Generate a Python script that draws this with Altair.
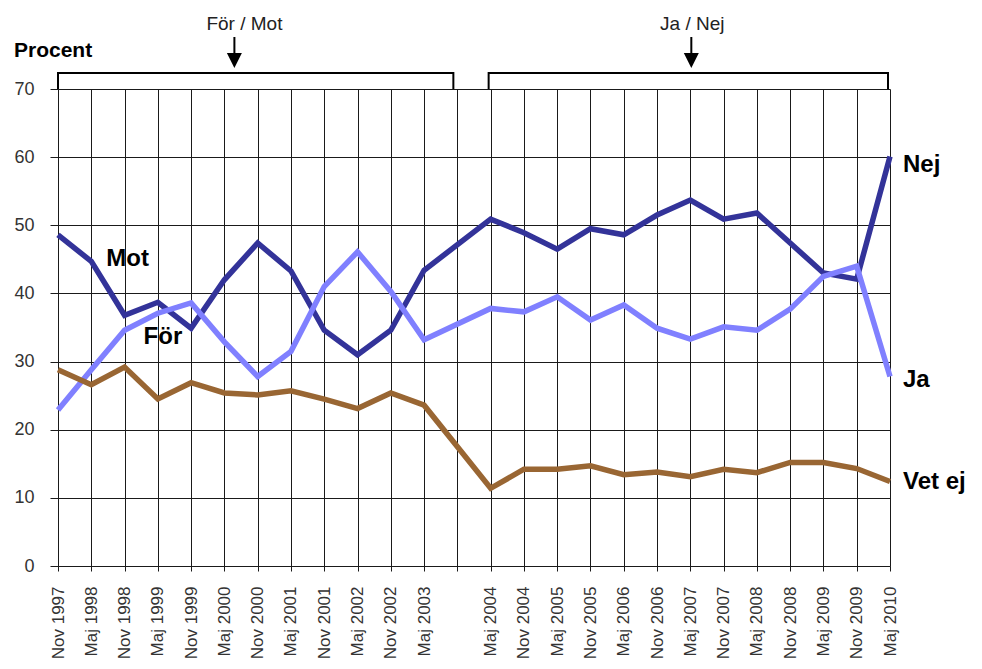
import altair as alt
import pandas as pd

# ---------------- data ----------------
categories = ["Nov 1997", "Maj 1998", "Nov 1998", "Maj 1999", "Nov 1999", "Maj 2000",
              "Nov 2000", "Maj 2001", "Nov 2001", "Maj 2002", "Nov 2002", "Maj 2003",
              "Nov 2003", "Maj 2004", "Nov 2004", "Maj 2005", "Nov 2005", "Maj 2006",
              "Nov 2006", "Maj 2007", "Nov 2007", "Maj 2008", "Nov 2008", "Maj 2009",
              "Nov 2009", "Maj 2010"]
blank_label = "Nov 2003"

mot_nej = [48.6, 44.7, 36.8, 38.7, 34.9, 42.0, 47.4, 43.3, 34.6, 31.0, 34.6, 43.4, None,
           50.9, 48.9, 46.5, 49.5, 48.6, 51.5, 53.7, 50.9, 51.8, 47.4, 43.0, 42.1, 60.1]
for_ja = [22.9, 28.8, 34.6, 37.1, 38.6, 32.9, 27.8, 31.5, 41.0, 46.1, 40.3, 33.2, None,
          37.8, 37.3, 39.5, 36.1, 38.3, 34.9, 33.3, 35.1, 34.6, 37.7, 42.5, 44.0, 27.8]
vet_ej = [28.8, 26.6, 29.2, 24.5, 26.9, 25.4, 25.1, 25.7, 24.5, 23.1, 25.4, 23.6, None,
          11.4, 14.2, 14.2, 14.7, 13.4, 13.8, 13.1, 14.2, 13.7, 15.2, 15.2, 14.3, 12.4]

series_names = ["Mot / Nej", "För / Ja", "Vet ej"]
series_colors = ["#333399", "#8080FF", "#996633"]

y_ticks = [0, 10, 20, 30, 40, 50, 60, 70]

bracket_starts = ["Nov 1997", "Maj 2004"]
bracket_ends = ["Nov 2003", "Maj 2010"]
bracket_arrows = ["Maj 2000", "Maj 2007"]
bracket_texts = ["För / Mot", "Ja / Nej"]

series_labels = ["Mot", "För", "Nej", "Ja", "Vet ej"]
series_label_at = ["Maj 1998", "Nov 1998", "Maj 2010", "Maj 2010", "Maj 2010"]

# ---------------- build table ----------------
rows = []
for name, vals in zip(series_names, [mot_nej, for_ja, vet_ej]):
    for i, (c, v) in enumerate(zip(categories, vals)):
        if v is not None:
            rows.append({"period": c, "idx": i, "serie": name, "procent": v})
df = pd.DataFrame(rows)

FONT = "Liberation Sans"
GRID = "#1a1a1a"

x_scale = alt.Scale(type="point", domain=categories, padding=0)
x_axis = alt.Axis(
    grid=True, gridColor=GRID, gridWidth=1, gridOpacity=1,
    domainColor=GRID, tickColor=GRID, tickSize=5,
    labelAngle=270, labelFont=FONT, labelFontSize=17, labelColor="#333333",
    labelPadding=15, labelOverlap=False,
    labelExpr=f"datum.value == '{blank_label}' ? '' : datum.value",
)
y_scale = alt.Scale(domain=[0, 70], nice=False, zero=True)
y_axis = alt.Axis(
    values=y_ticks, grid=True, gridColor=GRID, gridWidth=1, gridOpacity=1,
    domainColor=GRID, tickColor=GRID, tickSize=8,
    labelFont=FONT, labelFontSize=18, labelColor="#333333", labelPadding=16,
)


def X(field="period:O"):
    return alt.X(field, scale=x_scale, axis=x_axis, title=None)


lines = alt.Chart(df).mark_line(strokeWidth=5.5, strokeJoin="miter", strokeCap="butt").encode(
    x=X(),
    y=alt.Y("procent:Q", scale=y_scale, axis=y_axis, title=None),
    color=alt.Color("serie:N", scale=alt.Scale(domain=series_names, range=series_colors), legend=None),
    order=alt.Order("idx:Q"),
    detail="serie:N",
)

layers = [lines]

# brackets with arrows and titles
offsets = [(0, -4, 10, 20), (-2, -2, 1, 2)]
for i in range(2):
    so, eo, ao, to = offsets[i]
    d = pd.DataFrame({"period": [bracket_starts[i]], "period_end": [bracket_ends[i]]})
    de = pd.DataFrame({"period": [bracket_ends[i]]})
    da = pd.DataFrame({"period": [bracket_arrows[i]], "txt": [bracket_texts[i]]})
    layers.append(alt.Chart(d).mark_rule(strokeWidth=2, color="#000000", xOffset=so, x2Offset=eo).encode(
        x=X(), x2="period_end:O", y=alt.value(-16)))
    layers.append(alt.Chart(d).mark_rule(strokeWidth=2, color="#000000", xOffset=so).encode(
        x=X(), y=alt.value(-17), y2=alt.value(0)))
    layers.append(alt.Chart(de).mark_rule(strokeWidth=2, color="#000000", xOffset=eo).encode(
        x=X(), y=alt.value(-17), y2=alt.value(0)))
    layers.append(alt.Chart(da).mark_rule(strokeWidth=2, color="#000000", xOffset=ao).encode(
        x=X(), y=alt.value(-52), y2=alt.value(-35)))
    layers.append(alt.Chart(da).mark_point(shape="M-1,-1L1,-1L0,1Z", filled=True, size=225,
                                           color="#000000", opacity=1, xOffset=ao).encode(
        x=X(), y=alt.value(-28.5)))
    layers.append(alt.Chart(da).mark_text(font=FONT, fontSize=19, color="#222222", align="center",
                                          baseline="alphabetic", xOffset=to).encode(
        x=X(), y=alt.value(-59), text="txt:N"))

# series labels
label_dx = [15, 19, 13, 13, 13]
label_y = [177, 255, 83, 298, 400]
for txt, at, dx, yy in zip(series_labels, series_label_at, label_dx, label_y):
    dl = pd.DataFrame({"period": [at], "txt": [txt]})
    layers.append(alt.Chart(dl).mark_text(font=FONT, fontSize=24, fontWeight="bold", color="#000000",
                                          align="left", baseline="alphabetic", dx=dx).encode(
        x=X(), y=alt.value(yy), text="txt:N"))

# Procent title
dp = pd.DataFrame({"txt": ["Procent"]})
layers.append(alt.Chart(dp).mark_text(font=FONT, fontSize=21, fontWeight="bold", color="#000000",
                                      align="left", baseline="alphabetic").encode(
    x=alt.value(-44), y=alt.value(-32), text="txt:N"))

chart = alt.layer(*layers).properties(
    width=832, height=477,
    autosize=alt.AutoSizeParams(type="none"),
    padding={"left": 50, "top": 81, "right": 84, "bottom": 95},
    background="#ffffff",
).configure_view(stroke=None)

chart.save("out.html", embed_options={"renderer": "svg", "actions": False})
